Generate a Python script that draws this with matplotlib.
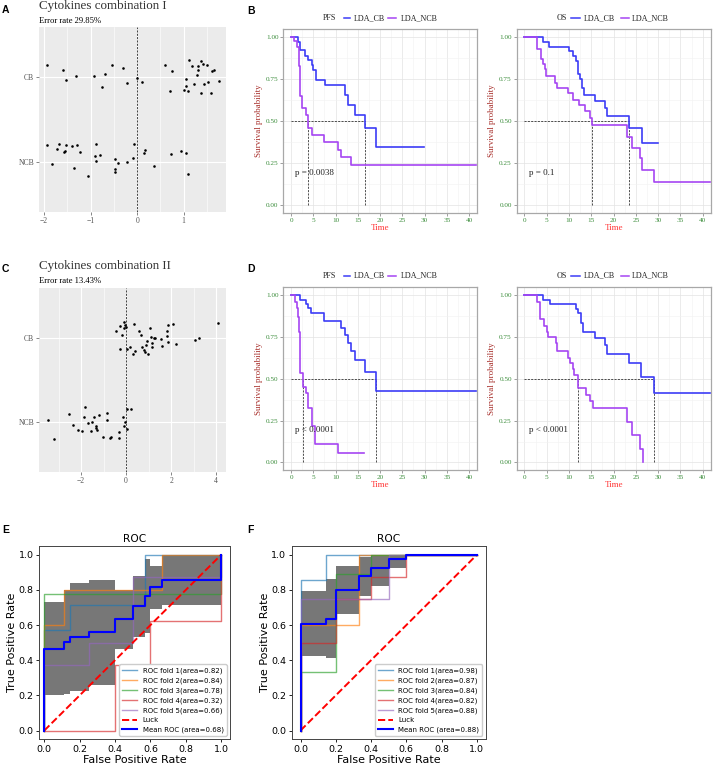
import numpy as np
import matplotlib.pyplot as plt
from matplotlib.ticker import MultipleLocator

# ================= data =================
# LDA scores (x) and jitter (dy) for panel A
A_CB_X = [-1.946, -1.590, -1.532, -1.314, -0.922, -0.697, -0.748, -0.530, -0.312, -0.218,
          -0.007, 0.109, 0.588, 0.741, 0.712, 1.118, 1.184, 1.300, 1.365, 1.423, 1.511,
          1.649, 1.605, 1.307, 1.293, 1.060, 1.046, 1.009, 1.089, 1.220, 1.373, 1.431,
          1.525, 1.590, 1.750]
A_CB_DY = [0.153, 0.090, -0.027, 0.012, 0.012, 0.039, -0.110, 0.153, 0.114, -0.063,
           -0.008, -0.055, 0.153, 0.078, -0.161, 0.204, 0.141, 0.133, 0.196, 0.157, 0.145,
           0.094, 0.071, 0.094, 0.027, -0.024, -0.106, -0.149, -0.161, -0.078, -0.188, -0.082,
           -0.055, -0.184, -0.043]
A_NCB_X = [-1.932, -1.714, -1.678, -1.569, -1.561, -1.532, -1.409, -1.293, -1.220, -1.837,
           -1.358, -1.046, -0.886, -0.908, -0.806, -0.893, -0.479, -0.407, -0.479, -0.479,
           -0.211, -0.087, -0.073, 0.138, 0.174, 0.370, 0.726, 0.951, 1.046, 1.097]
A_NCB_DY = [0.196, 0.149, 0.208, 0.110, 0.125, 0.196, 0.184, 0.200, 0.118, -0.027,
            -0.071, -0.173, 0.204, 0.063, 0.082, 0.008, 0.031, -0.012, -0.094, -0.129,
            0.0, 0.047, 0.208, 0.102, 0.133, -0.055, 0.090, 0.125, 0.102, -0.153]

# panel C
C_CB_X = [-0.446, -0.267, -0.163, -0.104, -0.074, 0.0, -0.030, -0.267, 0.059, 0.163,
          0.327, 0.401, 0.371, 0.579, 0.683, 0.713, 0.876, 0.936, 0.817, 0.861, 0.980,
          1.084, 1.114, 1.173, 1.144, 1.262, 1.307, 1.545, 1.604, 1.827, 1.827, 1.871,
          1.871, 2.064, 2.213, 3.059, 3.253, 4.085]
C_CB_DY = [0.084, 0.151, 0.036, 0.191, 0.116, 0.139, 0.163, -0.131, -0.131, -0.100,
           -0.191, -0.159, 0.171, 0.084, 0.036, -0.100, -0.076, -0.036, -0.147, -0.163, -0.191,
           0.116, 0.020, -0.060, -0.100, 0.0, 0.008, -0.008, -0.092, 0.088, 0.024, 0.159,
           -0.044, 0.175, -0.068, -0.024, 0.0, 0.187]
C_NCB_X = [-3.473, -3.206, -2.553, -2.360, -2.122, -1.958, -1.825, -1.855, -1.691, -1.543,
           -1.513, -1.439, -1.350, -1.306, -1.202, -1.321, -1.009, -0.861, -0.846, -0.727,
           -0.668, -0.312, -0.297, -0.134, -0.059, -0.074, 0.059, 0.045, 0.208]
C_NCB_DY = [0.020, -0.203, 0.096, -0.036, -0.096, -0.112, 0.175, 0.060, -0.012, -0.108,
            0.0, 0.060, -0.052, -0.096, 0.084, -0.068, -0.183, 0.100, 0.020, -0.191,
            -0.183, -0.116, -0.195, 0.060, 0.0, -0.052, -0.080, 0.155, 0.151]

# Kaplan-Meier curves (level start times, survival; last point = end of follow-up)
B_PFS_CB_T = [0, 1.5, 2.1, 3.2, 3.7, 4.6, 5.0, 5.6, 7.6, 12.2, 12.7, 14.3, 16.7, 19.2, 29.8]
B_PFS_CB_S = [1, .971, .923, .887, .863, .833, .804, .746, .714, .655, .597, .538, .462, .347, .347]
B_PFS_NCB_T = [0, 0.7, 1.3, 1.8, 2.1, 2.5, 3.3, 3.7, 4.7, 7.3, 10.5, 11.3, 13.5, 41.5]
B_PFS_NCB_S = [1, .976, .94, .83, .65, .58, .54, .46, .42, .38, .33, .29, .24, .24]
B_OS_CB_T = [0, 4.2, 5.6, 10.0, 11.0, 11.6, 11.9, 12.0, 12.4, 12.8, 13.3, 15.8, 18.0, 18.6,
             23.5, 26.3, 30.0]
B_OS_CB_S = [1, .97, .945, .917, .89, .86, .833, .78, .75, .70, .66, .62, .58, .53, .46, .37, .37]
B_OS_NCB_T = [0, 2.9, 3.6, 4.1, 4.6, 4.8, 6.8, 7.2, 9.7, 10.8, 12.2, 13.5, 14.6, 15.1, 23.1,
              24.2, 25.9, 26.4, 29.1, 41.7]
B_OS_NCB_S = [1, .93, .87, .84, .81, .77, .73, .70, .67, .63, .60, .56, .52, .48, .41, .34,
              .28, .21, .14, .14]
D_PFS_CB_T = [0, 2.1, 3.3, 3.75, 4.4, 7.3, 11.3, 12.2, 12.7, 13.4, 14.4, 16.7, 19.1, 41.6]
D_PFS_CB_S = [1, .972, .944, .92, .894, .845, .805, .759, .711, .665, .614, .538, .428, .428]
D_PFS_NCB_T = [0, 0.8, 1.4, 1.55, 1.7, 1.8, 1.9, 2.1, 2.6, 3.3, 3.75, 4.8, 5.3, 10.5, 16.4]
D_PFS_NCB_S = [1, .958, .92, .87, .83, .78, .74, .535, .452, .412, .325, .215, .108, .054, .054]
D_OS_CB_T = [0, 4.2, 5.7, 11.65, 12.1, 12.6, 12.7, 13.2, 15.8, 18.0, 18.6, 23.4, 26.2, 29.1, 41.7]
D_OS_CB_S = [1, .97, .944, .917, .89, .86, .833, .78, .745, .70, .65, .594, .512, .412, .412]
D_OS_NCB_T = [0, 2.9, 3.5, 4.4, 5.0, 5.3, 7.1, 7.2, 9.8, 10.2, 10.9, 11.2, 12.0, 13.9, 14.7,
              15.3, 23.0, 24.1, 26.0, 26.6, 26.6]
D_OS_NCB_S = [1, .96, .855, .817, .777, .749, .711, .667, .627, .596, .558, .52, .444, .402,
              .367, .323, .243, .163, .08, 0, 0]

B_PFS_MED = [16.7, 3.75]
B_OS_MED = [23.5, 15.1]
D_PFS_MED = [19.1, 2.6]
D_OS_MED = [29.1, 12.0]
PVALS = ['p = 0.0038', 'p = 0.1', 'p < 0.0001', 'p < 0.0001']

# ROC folds
E_FOLD_FPR = [[0, 0, .143, .143, .571, .571, 1],
              [0, 0, .111, .111, .667, .667, 1],
              [0, 0, 1, 1],
              [0, .4, .4, .6, .6, 1, 1],
              [0, 0, .25, .25, .5, .5, 1, 1]]
E_FOLD_TPR = [[0, .571, .571, .714, .714, 1, 1],
              [0, .6, .6, .8, .8, 1, 1],
              [0, .778, .778, 1],
              [0, 0, .375, .375, .625, .625, 1],
              [0, .375, .375, .5, .5, .875, .875, 1]]
E_AUC = [0.82, 0.84, 0.78, 0.32, 0.66]
E_MEAN_AUC = 0.68
E_BAND_FPR = [0, .111, .143, .25, .4, .5, .571, .6, .667, 1.0]
E_MEAN_TPR = [.465, .505, .533, .558, .633, .708, .766, .816, .856, 1.0]
E_LOW_TPR = [.200, .209, .225, .259, .466, .534, .556, .693, .714, 1.0]
E_HIGH_TPR = [.730, .801, .841, .857, .800, .882, .976, .938, .998, 1.0]

F_FOLD_FPR = [[0, 0, .143, .143, 1],
              [0, 0, .333, .333, 1],
              [0, 0, .2, .2, .4, .4, 1],
              [0, 0, .2, .2, .4, .4, .6, .6, 1],
              [0, 0, .5, .5, 1]]
F_FOLD_TPR = [[0, .857, .857, 1, 1],
              [0, .6, .6, 1, 1],
              [0, .333, .333, .889, .889, 1, 1],
              [0, .5, .5, .75, .75, .875, .875, 1, 1],
              [0, .75, .75, 1, 1]]
F_AUC = [0.98, 0.87, 0.84, 0.82, 0.88]
F_MEAN_AUC = 0.88
F_BAND_FPR = [0, .143, .2, .333, .4, .5, .6, 1.0]
F_MEAN_TPR = [.608, .637, .798, .878, .925, .975, 1.0, 1.0]
F_LOW_TPR = [.424, .410, .662, .766, .825, .925, 1.0, 1.0]
F_HIGH_TPR = [.792, .864, .934, .990, 1.0, 1.0, 1.0, 1.0]

# ================= figure =================
W, H = 714, 764
SERIF = 'Liberation Serif'
fig = plt.figure(figsize=(W / 100, H / 100), dpi=100)


def px_axes(x0, y0, x1, y1):
    return fig.add_axes([x0 / W, 1 - y1 / H, (x1 - x0) / W, (y1 - y0) / H])


def ftext(x, y, s, **kw):
    fig.text(x / W, 1 - y / H, s, **kw)


def letter(x, y, s):
    ftext(x, y, s, fontsize=7.5, fontweight='bold', family='Liberation Sans', va='baseline')


def lda_panel(ax, cb_x, cb_dy, ncb_x, ncb_dy, xlim, step):
    ax.set_facecolor('#EBEBEB')
    ax.scatter(cb_x, 2 + np.array(cb_dy), s=3.5, c='black', lw=0, zorder=3)
    ax.scatter(ncb_x, 1 + np.array(ncb_dy), s=3.5, c='black', lw=0, zorder=3)
    ax.axvline(0, color='#222222', ls=(0, (2.5, 1.5)), lw=0.6, zorder=2)
    ax.set_xlim(xlim)
    ax.set_ylim(0.4, 2.6)
    ax.xaxis.set_major_locator(MultipleLocator(step))
    ax.xaxis.set_minor_locator(MultipleLocator(step / 2))
    ax.set_yticks([1, 2], ['NCB', 'CB'], fontfamily=SERIF)
    ax.grid(which='major', color='white', lw=0.8)
    ax.grid(which='minor', axis='x', color='white', lw=0.4)
    ax.tick_params(which='minor', length=0)
    ax.tick_params(length=2, width=0.5, color='#555555', labelcolor='#555555',
                   labelsize=5.5, pad=1.5)
    for s in ax.spines.values():
        s.set_visible(False)
    ax.set_axisbelow(True)


axA = px_axes(39, 27, 226, 212)
lda_panel(axA, A_CB_X, A_CB_DY, A_NCB_X, A_NCB_DY, (-2.11, 1.91), 1)
axA.set_xticks([-2, -1, 0, 1], ['\u22122', '\u22121', '0', '1'], fontfamily=SERIF)
letter(2, 13, 'A')
ftext(39, 9, 'Cytokines combination I', family=SERIF, fontsize=9.4, va='baseline', color='#333333')
ftext(39, 23.3, 'Error rate 29.85%', family=SERIF, fontsize=6.2, va='baseline')

axC = px_axes(39, 288, 226, 472)
lda_panel(axC, C_CB_X, C_CB_DY, C_NCB_X, C_NCB_DY, (-3.87, 4.44), 2)
axC.set_xticks([-2, 0, 2, 4], ['\u22122', '0', '2', '4'], fontfamily=SERIF)
letter(2, 272, 'C')
ftext(39, 269, 'Cytokines combination II', family=SERIF, fontsize=9.4, va='baseline', color='#333333')
ftext(39, 283.3, 'Error rate 13.43%', family=SERIF, fontsize=6.2, va='baseline')

# ---------------- Kaplan-Meier panels ----------------
CB_COL = '#3c3cf6'
NCB_COL = '#a545f2'


def km_panel(ax, cb, ncb, medians, pval, kind, lpos):
    ax.step(cb[0], cb[1], where='post', color=CB_COL, lw=1.2, zorder=3)
    ax.step(ncb[0], ncb[1], where='post', color=NCB_COL, lw=1.2, zorder=3)
    dash = dict(color='#333333', ls=(0, (2.5, 1.5)), lw=0.6, zorder=2)
    ax.plot([0, max(medians)], [0.5, 0.5], **dash)
    for m in medians:
        ax.plot([m, m], [0, 0.5], **dash)
    ax.text(0.9, 0.195, pval, family=SERIF, fontsize=6.5, va='center', color='#222222')
    ax.set_xlim(-1.75, 41.8)
    ax.set_ylim(-0.045, 1.05)
    ax.set_xticks(range(0, 41, 5), [str(v) for v in range(0, 41, 5)],
                  fontfamily=SERIF, color='#3f8f3f')
    ax.set_yticks([0, .25, .5, .75, 1], ['0.00', '0.25', '0.50', '0.75', '1.00'],
                  fontfamily=SERIF, color='#3f8f3f')
    ax.xaxis.set_minor_locator(MultipleLocator(2.5))
    ax.yaxis.set_minor_locator(MultipleLocator(0.125))
    ax.grid(which='major', color='#e3e3e3', lw=0.5)
    ax.grid(which='minor', color='#f2f2f2', lw=0.4)
    ax.set_axisbelow(True)
    ax.tick_params(which='minor', length=0)
    ax.tick_params(length=2, width=0.5, color='#777777', labelsize=5.2, pad=1.5)
    for s in ax.spines.values():
        s.set_color('#a8a8a8')
        s.set_linewidth(0.9)
    ax.set_xlabel('Time', family=SERIF, fontsize=6.5, color='#ff3535', labelpad=0.5)
    ax.set_ylabel('Survival probability', family=SERIF, fontsize=6.5, color='#a8302c',
                  labelpad=2)
    # legend strip above the panel
    ly = 1.06
    t0, l1a, l1b, t1, l2a, l2b, t2 = lpos
    kw = dict(transform=ax.transAxes, family=SERIF, fontsize=5.8, va='center', color='#222222')
    ax.text(t0, ly, kind, **kw)
    ax.text(t1, ly, 'LDA_CB', **kw)
    ax.text(t2, ly, 'LDA_NCB', **kw)
    ax.plot([l1a, l1b], [ly, ly], transform=ax.transAxes, color=CB_COL, lw=1.1, clip_on=False)
    ax.plot([l2a, l2b], [ly, ly], transform=ax.transAxes, color=NCB_COL, lw=1.1, clip_on=False)


PFS_POS = (0.203, 0.315, 0.345, 0.365, 0.54, 0.58, 0.606)
OS_POS = (0.208, 0.282, 0.326, 0.347, 0.536, 0.579, 0.594)

axB1 = px_axes(283.3, 29, 477, 213)
km_panel(axB1, (B_PFS_CB_T, B_PFS_CB_S), (B_PFS_NCB_T, B_PFS_NCB_S), B_PFS_MED,
         PVALS[0], 'PFS', PFS_POS)
axB2 = px_axes(516.7, 29, 710.7, 213)
km_panel(axB2, (B_OS_CB_T, B_OS_CB_S), (B_OS_NCB_T, B_OS_NCB_S), B_OS_MED,
         PVALS[1], 'OS', OS_POS)
letter(247, 14, 'B')

axD1 = px_axes(283.3, 286.7, 477, 470)
km_panel(axD1, (D_PFS_CB_T, D_PFS_CB_S), (D_PFS_NCB_T, D_PFS_NCB_S), D_PFS_MED,
         PVALS[2], 'PFS', PFS_POS)
axD2 = px_axes(516.7, 286.7, 710.7, 470)
km_panel(axD2, (D_OS_CB_T, D_OS_CB_S), (D_OS_NCB_T, D_OS_NCB_S), D_OS_MED,
         PVALS[3], 'OS', OS_POS)
letter(247, 272, 'D')

# ---------------- ROC panels ----------------
FOLD_COLS = ['tab:blue', 'tab:orange', 'tab:green', 'tab:red', 'tab:purple']


def roc_panel(ax, ffpr, ftpr, aucs, bx, mean, lo, hi, mauc, xlim):
    for i in range(len(ffpr)):
        ax.plot(ffpr[i], ftpr[i], lw=1, alpha=0.65, color=FOLD_COLS[i], zorder=2,
                label='ROC fold %d(area=%.2f)' % (i + 1, aucs[i]))
    ax.plot([0, 1], [0, 1], ls='--', lw=1.4, color='r', label='Luck', zorder=3)
    ax.step([0] + list(bx), [0] + list(mean), where='post', color='b', lw=1.5, zorder=4,
            label='Mean ROC (area=%.2f)' % mauc)
    ax.fill_between(bx, lo, hi, step='post', color='#777777', lw=0, zorder=1)
    ax.set_xlim(xlim)
    ax.set_ylim(-0.05, 1.05)
    ax.set_xticks([0, .2, .4, .6, .8, 1.0])
    ax.set_yticks([0, .2, .4, .6, .8, 1.0])
    ax.tick_params(labelsize=6.8, length=2.5, width=0.6, pad=1.5)
    for s in ax.spines.values():
        s.set_color('#444444')
        s.set_linewidth(0.7)
    ax.set_xlabel('False Positive Rate', fontsize=8, labelpad=0.5)
    ax.set_ylabel('True Positive Rate', fontsize=8, labelpad=1)
    ax.set_title('ROC', fontsize=7.7, pad=3)
    ax.legend(loc='lower right', fontsize=5, handlelength=2.2, borderaxespad=0.5,
              framealpha=1, edgecolor='#cccccc', labelspacing=0.5, handletextpad=0.8)


axE = px_axes(39, 546, 230, 739.3)
roc_panel(axE, E_FOLD_FPR, E_FOLD_TPR, E_AUC, E_BAND_FPR, E_MEAN_TPR, E_LOW_TPR,
          E_HIGH_TPR, E_MEAN_AUC, (-0.03, 1.05))
letter(2, 533, 'E')

axF = px_axes(291.7, 546, 485.7, 739.3)
roc_panel(axF, F_FOLD_FPR, F_FOLD_TPR, F_AUC, F_BAND_FPR, F_MEAN_TPR, F_LOW_TPR,
          F_HIGH_TPR, F_MEAN_AUC, (-0.05, 1.05))
letter(247, 533, 'F')

fig.savefig('out.png', dpi=100)
